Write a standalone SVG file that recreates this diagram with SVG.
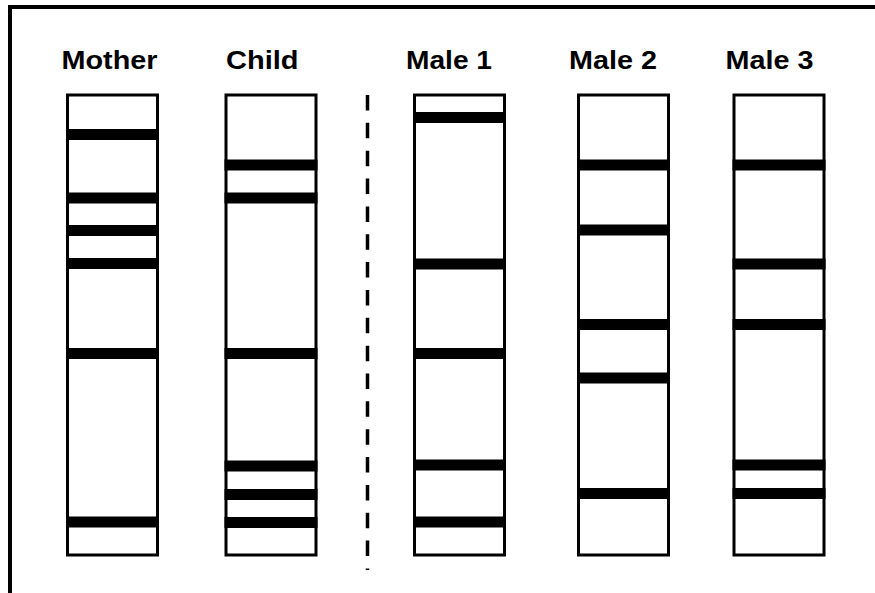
<svg xmlns="http://www.w3.org/2000/svg" width="875" height="593" viewBox="0 0 875 593">
  <style>
    .lane { fill: #ffffff; stroke: #000000; stroke-width: 3; }
    .band { fill: #000000; }
    .label { font-family: "Liberation Sans", Arial, sans-serif; font-weight: bold; font-size: 26px; fill: #000000; }
  </style>
  <rect x="0" y="0" width="875" height="593" fill="#ffffff"/>
  <path d="M10,593 V7 H875" fill="none" stroke="#000000" stroke-width="4"/>

  <g id="mother">
    <text class="label" x="61.5" y="68.5" textLength="96" lengthAdjust="spacingAndGlyphs">Mother</text>
    <rect class="lane" x="67.5" y="95" width="90" height="460"/>
    <rect class="band" x="66" y="129" width="93" height="11"/>
    <rect class="band" x="66" y="192.5" width="93" height="11"/>
    <rect class="band" x="66" y="225" width="93" height="11"/>
    <rect class="band" x="66" y="258" width="93" height="11"/>
    <rect class="band" x="66" y="348" width="93" height="11"/>
    <rect class="band" x="66" y="516.5" width="93" height="11"/>
  </g>

  <g id="child">
    <text class="label" x="226" y="68.5" textLength="72.5" lengthAdjust="spacingAndGlyphs">Child</text>
    <rect class="lane" x="226" y="95" width="90" height="460"/>
    <rect class="band" x="224.5" y="159.5" width="93" height="11"/>
    <rect class="band" x="224.5" y="192.5" width="93" height="11"/>
    <rect class="band" x="224.5" y="348" width="93" height="11"/>
    <rect class="band" x="224.5" y="460.5" width="93" height="11"/>
    <rect class="band" x="224.5" y="489" width="93" height="11"/>
    <rect class="band" x="224.5" y="517" width="93" height="11"/>
  </g>

  <g id="separator">
    <line x1="367.5" y1="95" x2="367.5" y2="570" stroke="#000000" stroke-width="3.5" stroke-dasharray="15.5 12.35"/>
  </g>

  <g id="male1">
    <text class="label" x="406" y="68.5" textLength="86" lengthAdjust="spacingAndGlyphs">Male 1</text>
    <rect class="lane" x="414.5" y="95" width="90" height="460"/>
    <rect class="band" x="413" y="112" width="93" height="11"/>
    <rect class="band" x="413" y="258.5" width="93" height="11"/>
    <rect class="band" x="413" y="348" width="93" height="11"/>
    <rect class="band" x="413" y="459.5" width="93" height="11"/>
    <rect class="band" x="413" y="516.5" width="93" height="11"/>
  </g>

  <g id="male2">
    <text class="label" x="569" y="68.5" textLength="88" lengthAdjust="spacingAndGlyphs">Male 2</text>
    <rect class="lane" x="578.5" y="95" width="90" height="460"/>
    <rect class="band" x="577" y="159.5" width="93" height="11"/>
    <rect class="band" x="577" y="224.5" width="93" height="11"/>
    <rect class="band" x="577" y="319" width="93" height="11"/>
    <rect class="band" x="577" y="372.5" width="93" height="11"/>
    <rect class="band" x="577" y="488" width="93" height="11"/>
  </g>

  <g id="male3">
    <text class="label" x="725.5" y="68.5" textLength="88" lengthAdjust="spacingAndGlyphs">Male 3</text>
    <rect class="lane" x="734" y="95" width="90" height="460"/>
    <rect class="band" x="732.5" y="159.5" width="93" height="11"/>
    <rect class="band" x="732.5" y="258.5" width="93" height="11"/>
    <rect class="band" x="732.5" y="319" width="93" height="11"/>
    <rect class="band" x="732.5" y="459.5" width="93" height="11"/>
    <rect class="band" x="732.5" y="488" width="93" height="11"/>
  </g>
</svg>
